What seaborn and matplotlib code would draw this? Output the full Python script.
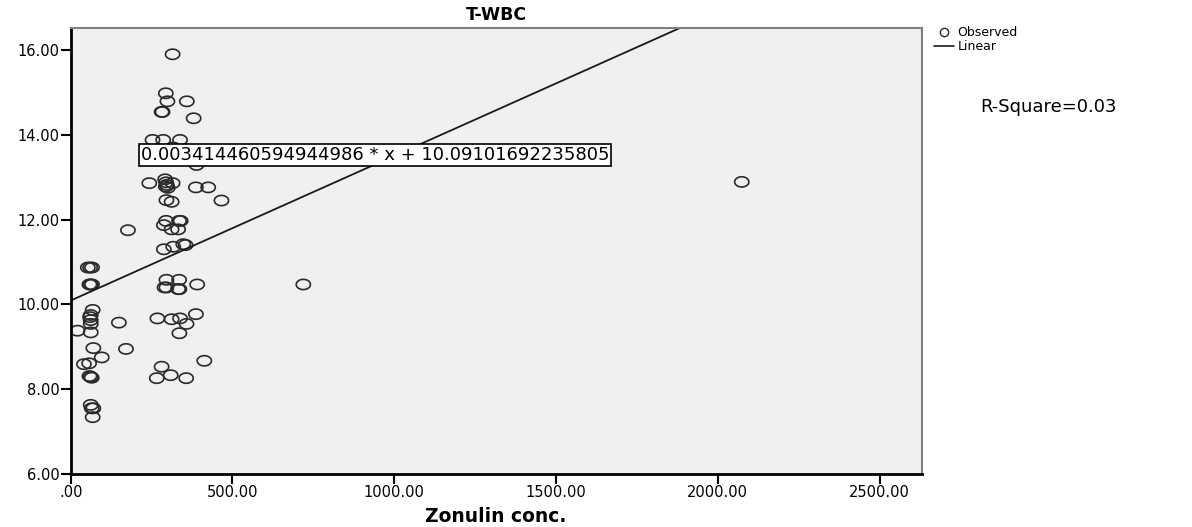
import numpy as np
import pandas as pd
import matplotlib
matplotlib.use("Agg")
import matplotlib.pyplot as plt
from matplotlib.path import Path
from matplotlib.lines import Line2D
import seaborn as sns

# Data
zonulin = [315, 294, 299, 359, 281, 284, 380, 253, 286, 338, 317, 389, 243,
           292, 295, 297, 294, 300, 315, 387, 425, 466, 296, 312,
           295, 335, 340, 288, 312, 332, 177, 288, 317, 348, 355,
           53, 60, 66, 58, 62, 66, 296, 335, 296, 290, 332, 336, 391, 719, 2074,
           68, 62, 60, 62, 62, 21, 62, 149, 268, 312, 338, 387, 358, 336,
           70, 171, 96, 41, 57, 58, 62, 65, 281, 266, 309, 357, 413,
           62, 65, 70, 68]
twbc = [15.90, 14.98, 14.79, 14.79, 14.54, 14.54, 14.39, 13.88, 13.88, 13.88, 13.70, 13.29, 12.86,
        12.95, 12.88, 12.82, 12.78, 12.75, 12.86, 12.76, 12.76, 12.45, 12.46, 12.42,
        11.97, 11.97, 11.97, 11.87, 11.77, 11.77, 11.75, 11.30, 11.36, 11.42, 11.40,
        10.87, 10.87, 10.87, 10.47, 10.47, 10.47, 10.58, 10.58, 10.40, 10.40, 10.36, 10.36, 10.47, 10.47, 12.89,
        9.87, 9.75, 9.70, 9.63, 9.54, 9.38, 9.34, 9.57, 9.67, 9.65, 9.67, 9.77, 9.54, 9.32,
        8.97, 8.95, 8.75, 8.59, 8.61, 8.31, 8.29, 8.27, 8.53, 8.26, 8.33, 8.26, 8.67,
        7.63, 7.55, 7.55, 7.34]

slope = 0.003414460594944986
intercept = 10.09101692235805
r_square = 0.03
x_ticks = [0, 500, 1000, 1500, 2000, 2500]
y_ticks = [6, 8, 10, 12, 14, 16]

df = pd.DataFrame({"Zonulin conc.": zonulin, "T-WBC": twbc})

sns.set_theme(style="white")
plt.rcParams['font.family'] = ['DejaVu Sans']
plt.rcParams['text.color'] = 'black'
plt.rcParams['axes.labelcolor'] = 'black'

fig = plt.figure(figsize=(11.92, 5.27), dpi=100)
ax = fig.add_axes([0.0593, 0.1006, 0.7139, 0.8463])
ax.set_facecolor("#f0f0f0")

# slightly wide open circle, like the SPSS marker
t = np.linspace(0, 2 * np.pi, 40)
ellipse = Path(np.column_stack([np.cos(t), 0.72 * np.sin(t)]))

sns.scatterplot(data=df, x="Zonulin conc.", y="T-WBC", ax=ax, marker=ellipse,
                s=105, facecolor="none", edgecolor="#2a2a2a", linewidth=1.2)

xmin, xmax = 0, 2630
ymin, ymax = 6, 16.52
line_x = np.array([xmin, xmax])
sns.lineplot(x=line_x, y=intercept + slope * line_x, ax=ax, color="#1a1a1a", linewidth=1.3)

ax.set_xlim(xmin, xmax)
ax.set_ylim(ymin, ymax)
ax.set_xticks(x_ticks)
ax.set_xticklabels([".00"] + ["%.2f" % v for v in x_ticks[1:]])
ax.set_yticks(y_ticks)
ax.set_yticklabels(["%.2f" % v for v in y_ticks])
ax.tick_params(axis="both", direction="out", length=7, width=1.5, colors="black",
               labelsize=10.5, pad=1, left=True, bottom=True)

for side in ["left", "bottom"]:
    ax.spines[side].set_color("black")
    ax.spines[side].set_linewidth(2)
for side in ["top", "right"]:
    ax.spines[side].set_color("#808080")
    ax.spines[side].set_linewidth(1.5)

ax.set_xlabel("Zonulin conc.", fontsize=13.5, fontweight="bold", labelpad=5)
ax.set_ylabel("")
ax.set_title("T-WBC", fontsize=12.5, fontweight="bold", pad=6)

# equation box
ax.text(941, 13.52, "%r * x + %r" % (slope, intercept), ha="center", va="center",
        fontsize=13, bbox=dict(boxstyle="square,pad=0.1", fc="white", ec="black", lw=1.2))

handles = [Line2D([], [], marker="o", ls="none", mfc="none", mec="#2a2a2a", ms=6),
           Line2D([], [], color="#1a1a1a", lw=1.2)]
fig.legend(handles, ["Observed", "Linear"], loc="upper left", bbox_to_anchor=(0.778, 0.962),
           frameon=False, fontsize=9, handlelength=1.6, handletextpad=0.3,
           labelspacing=0.05, borderpad=0)

fig.text(0.822, 0.797, "R-Square=%.2f" % r_square, fontsize=13, ha="left", va="center")

fig.savefig("out.png", dpi=100)
